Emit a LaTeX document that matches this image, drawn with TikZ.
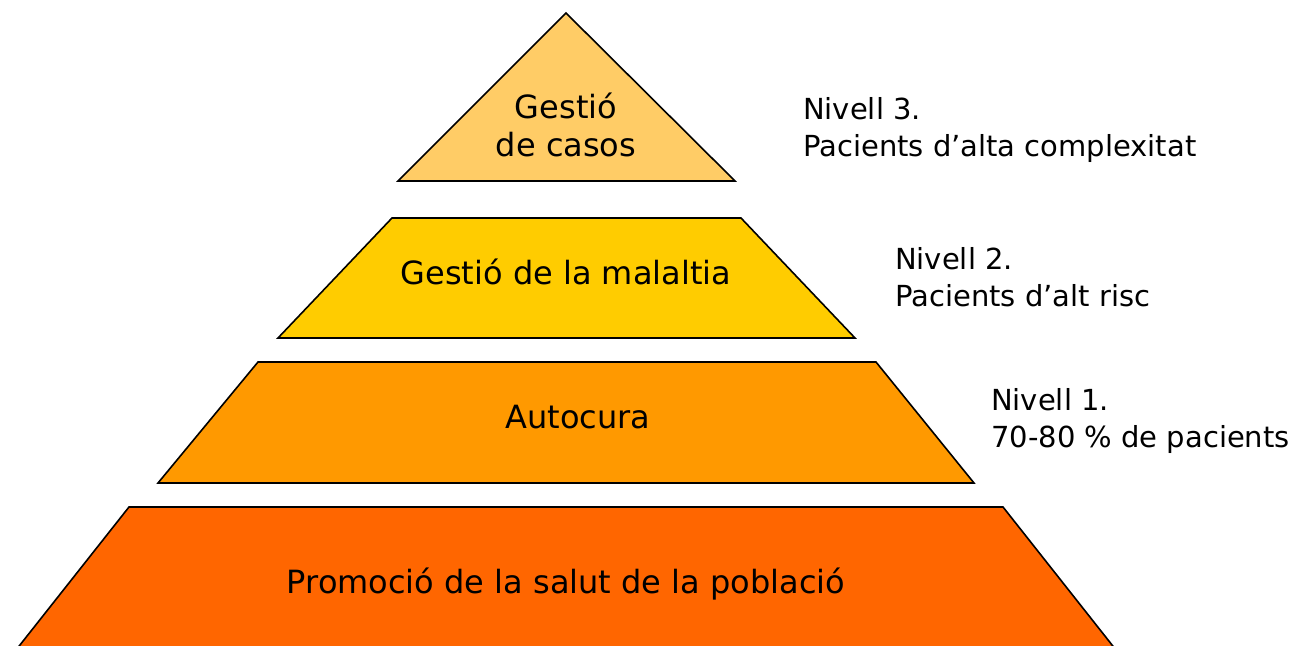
\documentclass[tikz,border=0pt]{standalone}
\usepackage{fontspec}
\setmainfont{DejaVu Sans}
\definecolor{lvA}{HTML}{FFCC66}
\definecolor{lvB}{HTML}{FFCC00}
\definecolor{lvC}{HTML}{FF9900}
\definecolor{lvD}{HTML}{FF6600}
\begin{document}
\begin{tikzpicture}[x=1pt,y=-1pt,
  tier/.style={draw=black,line width=1.6pt,line join=miter},
  lbl/.style={font=\fontsize{32}{38}\selectfont,align=center,inner sep=0pt},
  side/.style={font=\fontsize{29}{37}\selectfont,align=left,anchor=west,inner sep=0pt}]
\useasboundingbox (0,0) rectangle (1303,645);
\clip (0,0) rectangle (1303,645);
\fill[lvA,tier] (566,13) -- (735,181) -- (398,181) -- cycle;
\fill[lvB,tier] (392,218) -- (741,218) -- (855,338) -- (278,338) -- cycle;
\fill[lvC,tier] (258,362) -- (876,362) -- (974,483) -- (158,483) -- cycle;
\fill[lvD,tier] (129,507) -- (1003,507) -- (1116,650) -- (16,650) -- cycle;
\node[lbl] (t1) at (566,125) {Gestió\\de casos};
\node[lbl] (t2) at (566,272) {Gestió de la malaltia};
\node[lbl] (t3) at (578,417) {Autocura};
\node[lbl] (t4) at (566,584) {Promoció de la salut de la població};
\node[side] (s1) at (803,130) {Nivell 3.\\Pacients d’alta complexitat};
\node[side] (s2) at (895,277) {Nivell 2.\\Pacients d’alt risc};
\node[side] (s3) at (991,421) {Nivell 1.\\70-80 \% de pacients};
\end{tikzpicture}
\end{document}
